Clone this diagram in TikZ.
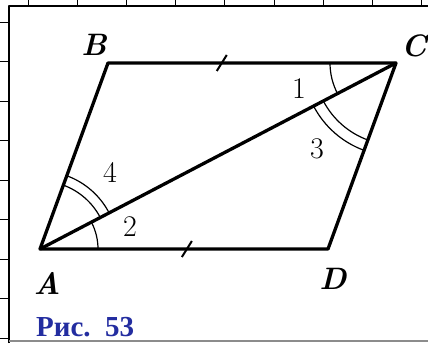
\documentclass[tikz,border=0pt]{standalone}
\usepackage{fontspec}
\usetikzlibrary{angles, calc}
\newfontfamily\capfont{Liberation Serif}
\definecolor{capblue}{RGB}{35,45,160}
\tikzset{
    figure/.style={x=1pt, y=-1pt, line join=round},
    side/.style={line width=3.3pt},
    frameline/.style={line width=1.8pt},
    gaugetick/.style={line width=1pt},
    eqtick/.style={line width=2pt},
    % angle arcs: one arc or two
    onearc/.style={draw, line width=1.2pt},
    vertex/.style={font=\fontsize{31}{33}\selectfont\bfseries\itshape},
    anglenum/.style={font=\fontsize{30}{32}\selectfont},
    caption/.style={font=\fontsize{29}{31}\selectfont\capfont\bfseries, text=capblue, anchor=base west, inner sep=0pt},
}
\begin{document}
\begin{tikzpicture}[figure]
    \useasboundingbox (0,0) rectangle (428,343);

    % frame of the page
    \draw[frameline] (9,343) -- (9,6) -- (428,6);
    \draw[frameline, black!45] (9,341) -- (428,341);
    \foreach \i in {0,...,8} {
        \draw[gaugetick] (28+49.2*\i,0) -- (28+49.2*\i,6);
        \draw[gaugetick] (0,22+39.5*\i) -- (9,22+39.5*\i);
    }

    \coordinate (A) at (40,249);
    \coordinate (B) at (108,63);
    \coordinate (C) at (396,63);
    \coordinate (D) at (328,249);

    \draw[side] (A) -- (B) -- (C) -- (D) -- cycle;
    \draw[side] (A) -- (C);

    % equal sides
    \draw[eqtick] ($(B)!0.395!(C)$) ++(-5,8) -- ++(10,-16);
    \draw[eqtick] ($(A)!0.51!(D)$) ++(-5,8) -- ++(10,-16);

    % angles
    \pic[onearc, angle radius=58pt] {angle = D--A--C};
    \pic[onearc, angle radius=68pt] {angle = C--A--B};
    \pic[onearc, angle radius=78pt] {angle = C--A--B};
    \pic[onearc, angle radius=66pt] {angle = B--C--A};
    \pic[onearc, angle radius=82pt] {angle = A--C--D};
    \pic[onearc, angle radius=93pt] {angle = A--C--D};

    \node[vertex] (lA) at (47,283) {A};
    \node[vertex] (lB) at (94,45) {B};
    \node[vertex] (lC) at (414,46) {C};
    \node[vertex] (lD) at (333,279) {D};

    \node[anglenum] (n1) at (299,89) {1};
    \node[anglenum] (n2) at (130,227) {2};
    \node[anglenum] (n3) at (317,149) {3};
    \node[anglenum] (n4) at (110,172) {4};

    \node[caption] (cap) at (36,336) {Рис.\hspace{0.5em}53};
\end{tikzpicture}
\end{document}
